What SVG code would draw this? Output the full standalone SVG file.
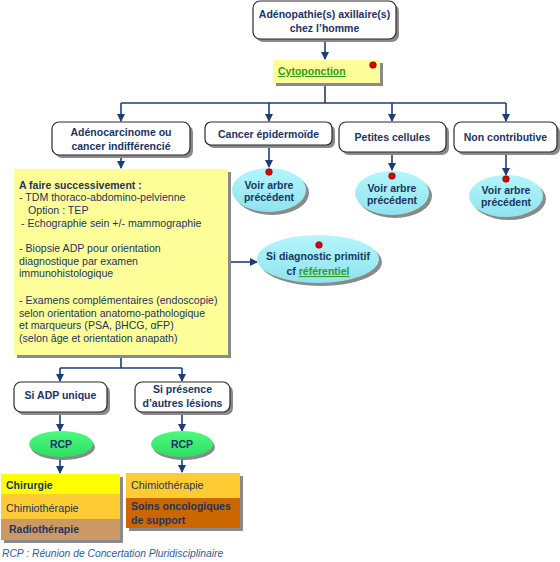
<svg xmlns="http://www.w3.org/2000/svg" width="560" height="562" viewBox="0 0 560 562">
<defs>
<marker id="ah" markerWidth="8" markerHeight="8" refX="7" refY="4" orient="auto" markerUnits="userSpaceOnUse">
<path d="M0,0 L8,4 L0,8 Z" fill="#1b3f74"/>
</marker>
<linearGradient id="cyan" x1="0" y1="0" x2="0" y2="1">
<stop offset="0" stop-color="#b4f6fc"/><stop offset="1" stop-color="#8fe3ee"/>
</linearGradient>
<linearGradient id="green" x1="0" y1="0" x2="0" y2="1">
<stop offset="0" stop-color="#4dfa80"/><stop offset="1" stop-color="#2ede63"/>
</linearGradient>
</defs>
<style>
.box{fill:#ffffff;stroke:#2a2a2a;stroke-width:1.2}
.sh{fill:#8a8a8a}
.t{font-family:"Liberation Sans",Arial,sans-serif;font-size:10.5px;font-weight:bold;fill:#1b3461}
.r{font-family:"Liberation Sans",Arial,sans-serif;font-size:10.6px;fill:#1b3461}
.lnk{fill:#2f9a1c;text-decoration:underline}
.ell{fill:url(#cyan)}
.rcp{fill:url(#green)}
.dot{fill:#e00000;stroke:#600000;stroke-width:0.6}
.c{fill:none;stroke:#1b3f74;stroke-width:1.6}
.m{fill:none;stroke:#1b3f74;stroke-width:1.6;marker-end:url(#ah)}
</style>

<g id="connectors">
<path class="m" d="M325,39 V59"/>
<path class="c" d="M325,83 V103 M121,103 H506"/>
<path class="m" d="M121,103 V121"/>
<path class="m" d="M269,103 V121"/>
<path class="m" d="M392,103 V121"/>
<path class="m" d="M506,103 V121"/>
<path class="m" d="M269,145 V167"/>
<path class="m" d="M392,152 V170"/>
<path class="m" d="M506,152 V175"/>
<path class="m" d="M121,155 V168"/>
<path class="m" d="M228,262 H257"/>
<path class="c" d="M121,355 V368 M60,368 H182"/>
<path class="m" d="M60,368 V381"/>
<path class="m" d="M182,368 V381"/>
<path class="m" d="M60,412 V431"/>
<path class="m" d="M182,412 V431"/>
<path class="m" d="M60,457 V473"/>
<path class="m" d="M182,457 V472"/>
</g>

<g id="n-adenopathie">
<rect class="sh" x="256" y="4" width="143" height="38" rx="7"/>
<rect class="box" x="253" y="1" width="143" height="38" rx="7"/>
<text class="t" x="324.5" y="18" text-anchor="middle">Adénopathie(s) axillaire(s)</text>
<text class="t" x="324.5" y="32" text-anchor="middle">chez l’homme</text>
</g>

<g id="n-cytoponction">
<rect class="sh" x="276" y="63" width="107" height="23"/>
<rect x="273" y="60" width="107" height="23" fill="#ffff99"/>
<text class="t lnk" x="278" y="75">Cytoponction</text>
<circle class="dot" cx="373" cy="65" r="3.3"/>
</g>

<g id="n-adenocarcinome">
<rect class="sh" x="55" y="125" width="138" height="33" rx="7"/>
<rect class="box" x="52" y="122" width="138" height="33" rx="7"/>
<text class="t" x="121" y="136" text-anchor="middle">Adénocarcinome ou</text>
<text class="t" x="121" y="150" text-anchor="middle">cancer indifférencié</text>
</g>

<g id="n-epidermoide">
<rect class="sh" x="208" y="125" width="127" height="23" rx="6"/>
<rect class="box" x="205" y="122" width="127" height="23" rx="6"/>
<text class="t" x="268.5" y="137.5" text-anchor="middle">Cancer épidermoïde</text>
</g>

<g id="n-petites">
<rect class="sh" x="342" y="125" width="107" height="30" rx="7"/>
<rect class="box" x="339" y="122" width="107" height="30" rx="7"/>
<text class="t" x="392.5" y="140.5" text-anchor="middle">Petites cellules</text>
</g>

<g id="n-noncontrib">
<rect class="sh" x="457" y="125" width="103" height="30" rx="7"/>
<rect class="box" x="454" y="122" width="103" height="30" rx="7"/>
<text class="t" x="505.5" y="140.5" text-anchor="middle">Non contributive</text>
</g>

<g id="n-voir1">
<ellipse class="sh" cx="272" cy="193" rx="37" ry="22"/>
<ellipse class="ell" cx="269" cy="190" rx="37" ry="22"/>
<circle class="dot" cx="269" cy="172" r="3.3"/>
<text class="t" x="269" y="189" text-anchor="middle">Voir arbre</text>
<text class="t" x="269" y="200.5" text-anchor="middle">précédent</text>
</g>

<g id="n-voir2">
<ellipse class="sh" cx="395" cy="196" rx="37" ry="22"/>
<ellipse class="ell" cx="392" cy="193" rx="37" ry="22"/>
<circle class="dot" cx="392" cy="176" r="3.3"/>
<text class="t" x="392" y="192" text-anchor="middle">Voir arbre</text>
<text class="t" x="392" y="203.5" text-anchor="middle">précédent</text>
</g>

<g id="n-voir3">
<ellipse class="sh" cx="509" cy="199" rx="37" ry="21"/>
<ellipse class="ell" cx="506" cy="196" rx="37" ry="21"/>
<circle class="dot" cx="506" cy="179" r="3.3"/>
<text class="t" x="506" y="194" text-anchor="middle">Voir arbre</text>
<text class="t" x="506" y="206" text-anchor="middle">précédent</text>
</g>

<g id="n-afaire">
<rect class="sh" x="17" y="172" width="214" height="186"/>
<rect x="14" y="169" width="214" height="186" fill="#ffff99"/>
<text class="t" x="19" y="189">A faire successivement :</text>
<text class="r" x="19" y="201">- TDM thoraco-abdomino-pelvienne</text>
<text class="r" x="28" y="214">Option : TEP</text>
<text class="r" x="21" y="227">- Echographie sein +/- mammographie</text>
<text class="r" x="19" y="252">- Biopsie ADP pour orientation</text>
<text class="r" x="19" y="265">diagnostique par examen</text>
<text class="r" x="19" y="277">immunohistologique</text>
<text class="r" x="19" y="304">- Examens complémentaires (endoscopie)</text>
<text class="r" x="19" y="317">selon orientation anatomo-pathologique</text>
<text class="r" x="19" y="329">et marqueurs (PSA, βHCG, αFP)</text>
<text class="r" x="19" y="342">(selon âge et orientation anapath)</text>
</g>

<g id="n-sidiag">
<ellipse class="sh" cx="321" cy="262" rx="61" ry="24"/>
<ellipse class="ell" cx="318" cy="259" rx="61" ry="24"/>
<circle class="dot" cx="319" cy="245" r="3.3"/>
<text class="t" x="318" y="260" text-anchor="middle">Si diagnostic primitif</text>
<text class="t" x="318" y="275" text-anchor="middle">cf <tspan class="lnk">référentiel</tspan></text>
</g>

<g id="n-siadp">
<rect class="sh" x="17" y="385" width="93" height="30" rx="7"/>
<rect class="box" x="14" y="382" width="93" height="30" rx="7"/>
<text class="t" x="60.5" y="399" text-anchor="middle">Si ADP unique</text>
</g>

<g id="n-sipresence">
<rect class="sh" x="138" y="385" width="95" height="30" rx="7"/>
<rect class="box" x="135" y="382" width="95" height="30" rx="7"/>
<text class="t" x="182.5" y="393" text-anchor="middle">Si présence</text>
<text class="t" x="182.5" y="407" text-anchor="middle">d’autres lésions</text>
</g>

<g id="n-rcp1">
<ellipse class="sh" cx="63" cy="447" rx="32" ry="13"/>
<ellipse class="rcp" cx="61" cy="444" rx="32" ry="13"/>
<text class="t" x="61" y="448" text-anchor="middle">RCP</text>
</g>

<g id="n-rcp2">
<ellipse class="sh" cx="184" cy="447" rx="31" ry="13"/>
<ellipse class="rcp" cx="182" cy="444" rx="31" ry="13"/>
<text class="t" x="182" y="448" text-anchor="middle">RCP</text>
</g>

<g id="n-stack1">
<rect class="sh" x="4" y="477" width="119" height="66"/>
<rect x="1" y="474" width="119" height="20" fill="#ffff00"/>
<rect x="1" y="494" width="119" height="25" fill="#ffcc33"/>
<rect x="1" y="519" width="119" height="21" fill="#cc9966"/>
<text class="t" x="6" y="489">Chirurgie</text>
<text class="t" x="6" y="512" style="font-weight:normal;font-size:10.8px">Chimiothérapie</text>
<text class="t" x="9" y="533">Radiothérapie</text>
</g>

<g id="n-stack2">
<rect class="sh" x="129" y="476" width="114" height="55"/>
<rect x="126" y="473" width="114" height="25" fill="#ffcc33"/>
<rect x="126" y="498" width="114" height="30" fill="#cc6600"/>
<text class="t" x="131" y="489" style="font-weight:normal;font-size:10.8px">Chimiothérapie</text>
<text class="t" x="131" y="510">Soins oncologiques</text>
<text class="t" x="131" y="524">de support</text>
</g>

<text x="2" y="557" font-family="Liberation Sans, Arial, sans-serif" font-size="10.3" font-style="italic" fill="#2f5d9a">RCP : Réunion de Concertation Pluridisciplinaire</text>
</svg>
